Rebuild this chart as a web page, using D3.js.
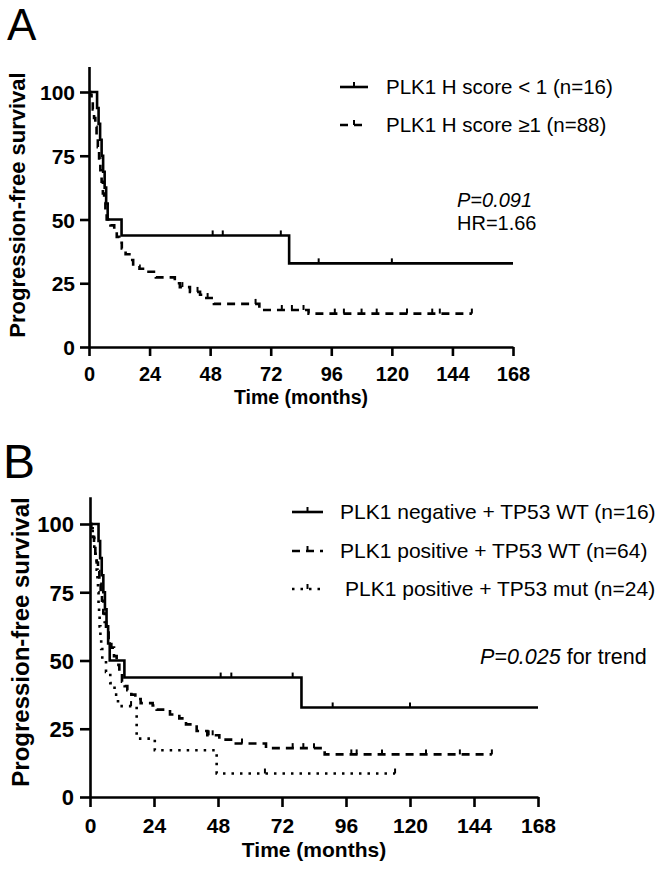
<!DOCTYPE html>
<html>
<head>
<meta charset="utf-8">
<script src="https://cdn.jsdelivr.net/npm/d3@7"></script>
<style>
  html, body { margin: 0; padding: 0; background: #fff; }
  svg { display: block; }
  text { font-family: "Liberation Sans", Arial, sans-serif; fill: #000; }
</style>
</head>
<body>
<svg id="chart" width="661" height="874"></svg>
<script>
// ---------- DATA ----------
const xTicks = [0, 24, 48, 72, 96, 120, 144, 168];
const yTicks = [0, 25, 50, 75, 100];

// PLK1 H score < 1 / PLK1 negative + TP53 WT (n=16)
const negTimes   = [0, 3.2, 3.8, 4.4, 5.0, 5.6, 6.2, 6.8, 7.4, 12.9, 79.3];
const negSurv    = [100, 93.75, 87.5, 81.25, 75, 68.75, 62.5, 56.25, 50, 43.75, 32.8];
const negEnd     = 168;
const negCensor  = [49, 53, 76, 91, 120];

// PLK1 H score >=1 (n=88)
const posTimes   = [0, 0.5, 1, 1.5, 2, 2.5, 3, 3.5, 4, 4.5, 5, 5.5, 6, 6.5, 7, 8.5, 10, 11, 12, 13, 14.5, 16, 17.5, 20, 23, 26.5, 34, 36, 40, 44, 46.5, 49.5, 67.5, 87];
const posSurv    = [100, 98.9, 96.6, 93.2, 89.8, 86.4, 83, 78.4, 73.9, 69.3, 64.8, 60.2, 56.8, 53.4, 50, 47.7, 45.5, 43.2, 40.9, 38.6, 36.4, 34.1, 31.8, 30.7, 29.5, 27.3, 25, 23.5, 21.6, 20.5, 19.2, 16.9, 14.5, 13.1];
const posEnd     = 151.7;
const posCensor  = [37, 43, 47, 66, 76.4, 80.4, 85, 97.4, 101, 108, 114, 126, 136, 139, 151.7];

// PLK1 positive + TP53 WT (n=64)
const wtTimes    = [0, 0.5, 1, 1.5, 2, 2.5, 3, 3.5, 4, 4.5, 5, 5.5, 6, 7, 8, 9, 10, 11, 12, 13, 14, 15.5, 17, 19, 23.5, 25, 30, 33.5, 36, 40, 44, 48.5, 53.5, 66, 88];
const wtSurv     = [100, 98.4, 95.3, 92.2, 89.1, 85.9, 82.8, 78.1, 75, 71.9, 67.2, 64.1, 60.9, 57.8, 54.7, 51.6, 48.4, 45.3, 42.2, 40.6, 39.1, 37.5, 35.9, 34.4, 33.5, 32, 30.2, 28.8, 26.6, 24.2, 22.6, 21, 19.6, 17.9, 15.6];
const wtEnd      = 150.7;
const wtCensor   = [44.5, 46, 57, 76, 80, 84, 98, 100, 109.5, 126, 138.7, 150.7];

// PLK1 positive + TP53 mut (n=24)
const mutTimes   = [0, 1, 1.6, 2.1, 2.5, 2.8, 3.0, 3.2, 3.4, 3.6, 3.9, 4.2, 4.6, 6.0, 7.6, 9.2, 10.5, 17.5, 24.3, 47.5];
const mutSurv    = [100, 95.8, 91.7, 87.5, 83.3, 79.2, 75, 70.8, 66.7, 62.5, 58.3, 54.2, 50, 45.8, 41.7, 37.5, 33.3, 21.4, 17.1, 8.6];
const mutEnd     = 114.4;
const mutCensor  = [15.4, 65.6, 114.4];

const legendA = ["PLK1 H score < 1 (n=16)", "PLK1 H score \u22651 (n=88)"];
const legendB = ["PLK1 negative + TP53 WT (n=16)", "PLK1 positive + TP53 WT (n=64)", "PLK1 positive + TP53 mut (n=24)"];

// ---------- DRAW ----------
const svg = d3.select("#chart");
const STYLES = {
  solid: null,
  dashed: "8,6",
  dotted: "2.5,6"
};

function drawPanel(cfg) {
  const x = d3.scaleLinear().domain([0, 168]).range([cfg.x0, cfg.x1]);
  const y = d3.scaleLinear().domain([0, 110]).range([cfg.y0, cfg.y0 - (cfg.y0 - cfg.y100) * 1.1]);
  const g = svg.append("g");

  // axes
  const xa = g.append("g").attr("transform", `translate(0,${cfg.y0})`)
    .call(d3.axisBottom(x).tickValues(xTicks).tickSize(cfg.tick).tickSizeOuter(0).tickPadding(cfg.xpad));
  const ya = g.append("g").attr("transform", `translate(${cfg.x0},0)`)
    .call(d3.axisLeft(y).tickValues(yTicks).tickSize(cfg.tick).tickSizeOuter(0).tickPadding(cfg.ypad));
  [xa, ya].forEach(a => {
    a.selectAll("path.domain").attr("stroke", "#000").attr("stroke-width", 2.6);
    a.selectAll(".tick line").attr("stroke", "#000").attr("stroke-width", 2.6);
    a.selectAll(".tick text").attr("font-weight", "bold")
      .attr("font-family", "Liberation Sans, Arial, sans-serif").attr("fill", "#000");
  });
  xa.selectAll(".tick text").attr("font-size", cfg.tickFont).attr("dy", null).attr("y", cfg.xLabelY);
  ya.selectAll(".tick text").attr("font-size", cfg.yTickFont).attr("dy", "0.36em");

  // titles
  g.append("text").attr("x", (cfg.x0 + cfg.x1) / 2).attr("y", cfg.y0 + cfg.titleDy)
    .attr("text-anchor", "middle").attr("font-size", cfg.titleFont).attr("font-weight", "bold")
    .text("Time (months)");
  g.append("text").attr("transform", `translate(${cfg.ylabX},${cfg.ylabY}) rotate(-90)`)
    .attr("text-anchor", "middle").attr("font-size", cfg.ylabFont).attr("font-weight", "bold")
    .text("Progression-free survival");
  g.append("text").attr("x", cfg.letterX).attr("y", cfg.letterY).attr("font-size", cfg.letterFont)
    .text(cfg.letter);

  // curves
  const line = d3.line().x(d => x(d[0])).y(d => y(d[1])).curve(d3.curveStepAfter);
  cfg.curves.forEach(c => {
    const pts = c.times.map((t, i) => [t, c.surv[i]]);
    pts.push([c.end, c.surv[c.surv.length - 1]]);
    g.append("path").attr("d", line(pts)).attr("fill", "none").attr("stroke", "#000")
      .attr("stroke-width", 2.6).attr("stroke-dasharray", STYLES[c.style]);
    const cg = g.append("g");
    c.censor.forEach(ct => {
      const i = d3.bisectRight(c.times, ct) - 1;
      const v = c.surv[Math.max(0, i)];
      cg.append("line").attr("x1", x(ct)).attr("x2", x(ct))
        .attr("y1", y(v)).attr("y2", y(v) - cfg.censorH)
        .attr("stroke", "#000").attr("stroke-width", 2);
    });
  });

  // legend
  cfg.legend.forEach((lab, i) => {
    const ly = cfg.legY[i];
    const c = cfg.curves[i];
    g.append("line").attr("x1", cfg.legX0).attr("x2", cfg.legX1).attr("y1", ly).attr("y2", ly)
      .attr("stroke", "#000").attr("stroke-width", 2.6).attr("stroke-dasharray", STYLES[c.style]);
    const mx = (cfg.legX0 + cfg.legX1) / 2;
    g.append("line").attr("x1", mx).attr("x2", mx).attr("y1", ly).attr("y2", ly - cfg.censorH)
      .attr("stroke", "#000").attr("stroke-width", 2);
    g.append("text").attr("x", cfg.legTextX[i]).attr("y", ly).attr("dy", "0.35em")
      .attr("font-size", cfg.legFont).text(lab);
  });
  return g;
}

const gA = drawPanel({
  letter: "A", letterX: 7, letterY: 40, letterFont: 44,
  x0: 89, x1: 513, y0: 347, y100: 92,
  tick: 9, xpad: 8, ypad: 5, tickFont: 20, yTickFont: 21, xLabelY: 34,
  titleDy: 57, titleFont: 19.5,
  ylabX: 25, ylabY: 205, ylabFont: 22,
  censorH: 5,
  curves: [
    { times: negTimes, surv: negSurv, end: negEnd, censor: negCensor, style: "solid" },
    { times: posTimes, surv: posSurv, end: posEnd, censor: posCensor, style: "dashed" }
  ],
  legend: legendA, legX0: 340, legX1: 368, legY: [87, 125], legTextX: [386, 386], legFont: 20.5
});
gA.append("text").attr("x", 457).attr("y", 207).attr("font-size", 20).attr("font-style", "italic").text("P=0.091");
gA.append("text").attr("x", 457).attr("y", 230).attr("font-size", 20).text("HR=1.66");

const gB = drawPanel({
  letter: "B", letterX: 3, letterY: 478, letterFont: 48,
  x0: 90, x1: 538, y0: 797, y100: 524,
  tick: 10, xpad: 8, ypad: 6, tickFont: 21, yTickFont: 22, xLabelY: 36,
  titleDy: 60, titleFont: 21,
  ylabX: 29, ylabY: 642, ylabFont: 24,
  censorH: 5,
  curves: [
    { times: negTimes, surv: negSurv, end: negEnd, censor: negCensor, style: "solid" },
    { times: wtTimes, surv: wtSurv, end: wtEnd, censor: wtCensor, style: "dashed" },
    { times: mutTimes, surv: mutSurv, end: mutEnd, censor: mutCensor, style: "dotted" }
  ],
  legend: legendB, legX0: 292, legX1: 323, legY: [512, 551, 589], legTextX: [340, 340, 345], legFont: 21
});
const pt = gB.append("text").attr("x", 480).attr("y", 664).attr("font-size", 21.5);
pt.append("tspan").attr("font-style", "italic").text("P=0.025");
pt.append("tspan").text(" for trend");
</script>
</body>
</html>
